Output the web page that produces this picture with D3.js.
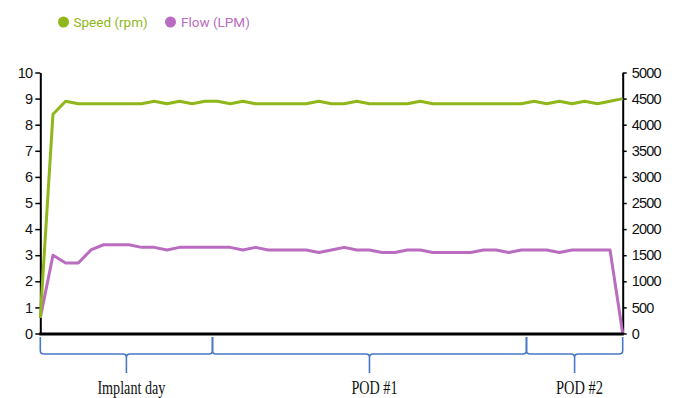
<!DOCTYPE html>
<html>
<head>
<meta charset="utf-8">
<script src="https://cdn.jsdelivr.net/npm/d3@7"></script>
<style>
  html, body { margin: 0; padding: 0; background: #fff; }
  svg { display: block; }
</style>
</head>
<body>
<svg id="chart" width="674" height="398"></svg>
<script>
// ---- data ----
const seriesNames = ["Speed (rpm)", "Flow (LPM)"];
// speed in rpm (right axis, 0-5000), one value per measurement index
const speedRpm = [300, 4200, 4450, 4400, 4400, 4400, 4400, 4400, 4400, 4450,
  4400, 4450, 4400, 4450, 4450, 4400, 4450, 4400, 4400, 4400,
  4400, 4400, 4450, 4400, 4400, 4450, 4400, 4400, 4400, 4400,
  4450, 4400, 4400, 4400, 4400, 4400, 4400, 4400, 4400, 4450,
  4400, 4450, 4400, 4450, 4400, 4450, 4500];
// flow in LPM (left axis, 0-10)
const flowLpm = [0.6, 3.0, 2.7, 2.7, 3.2, 3.4, 3.4, 3.4, 3.3, 3.3,
  3.2, 3.3, 3.3, 3.3, 3.3, 3.3, 3.2, 3.3, 3.2, 3.2,
  3.2, 3.2, 3.1, 3.2, 3.3, 3.2, 3.2, 3.1, 3.1, 3.2,
  3.2, 3.1, 3.1, 3.1, 3.1, 3.2, 3.2, 3.1, 3.2, 3.2,
  3.2, 3.1, 3.2, 3.2, 3.2, 3.2, 0];
const leftTicks = [0, 1, 2, 3, 4, 5, 6, 7, 8, 9, 10];
const rightTicks = [0, 500, 1000, 1500, 2000, 2500, 3000, 3500, 4000, 4500, 5000];
// period groups along the measurement index
const periodLabels = ["Implant day", "POD #1", "POD #2"];
const periodBounds = [0, 13.6, 38.4, 46];

// ---- layout ----
const colors = { speed: "#8fb71a", flow: "#b96cc0", brace: "#4a78c8" };
const svg = d3.select("#chart");
const x = d3.scaleLinear().domain([0, speedRpm.length - 1]).range([40.3, 622.7]);
const yLeft = d3.scaleLinear().domain([0, 10]).range([333.5, 72.5]);
const yRight = d3.scaleLinear().domain([0, 5000]).range([333.5, 72.5]);

// legend
const legend = svg.append("g");
const legendItems = [
  { name: seriesNames[0], color: colors.speed, cx: 63.5, tx: 73.5 },
  { name: seriesNames[1], color: colors.flow, cx: 170.5, tx: 181 }
];
legendItems.forEach(d => {
  legend.append("circle").attr("cx", d.cx).attr("cy", 22).attr("r", 5.5).attr("fill", d.color);
  legend.append("text").attr("x", d.tx).attr("y", 27)
    .attr("font-family", "Roboto, 'Noto Sans', sans-serif").attr("font-size", 13.5)
    .attr("fill", d.color).text(d.name);
});

// axes
const tickFont = "'Liberation Sans', Arial, sans-serif";
const gl = svg.append("g").attr("transform", `translate(${x(0)},0)`)
  .call(d3.axisLeft(yLeft).tickValues(leftTicks).tickFormat(d3.format("d"))
    .tickSize(5).tickSizeOuter(0).tickPadding(3));
const gr = svg.append("g").attr("transform", `translate(${x(speedRpm.length - 1)},0)`)
  .call(d3.axisRight(yRight).tickValues(rightTicks).tickFormat(d3.format("d"))
    .tickSize(4).tickSizeOuter(0).tickPadding(5));
[gl, gr].forEach(g => {
  g.select(".domain").attr("stroke", "#000").attr("stroke-width", 2);
  g.selectAll(".tick line").attr("stroke", "#000").attr("stroke-width", 1.5);
  g.selectAll(".tick text").attr("font-family", tickFont).attr("font-size", 14.5)
    .attr("letter-spacing", -0.8).attr("fill", "#111");
});

// lines
const lineFlow = d3.line().x((d, i) => x(i)).y(d => yLeft(d));
const lineSpeed = d3.line().x((d, i) => x(i)).y(d => yRight(d));
svg.append("path").datum(flowLpm).attr("d", lineFlow)
  .attr("fill", "none").attr("stroke", colors.flow).attr("stroke-width", 3).attr("stroke-linejoin", "round");
svg.append("path").datum(speedRpm).attr("d", lineSpeed)
  .attr("fill", "none").attr("stroke", colors.speed).attr("stroke-width", 3).attr("stroke-linejoin", "round");

// x axis line
svg.append("line").attr("x1", x(0) - 1).attr("x2", x(speedRpm.length - 1) + 1)
  .attr("y1", 334).attr("y2", 334).attr("stroke", "#000").attr("stroke-width", 2.8);

// braces
const yTop = 337, yMid = 354, yTip = 373, r = 3.5;
function bracePath(x0, x1) {
  const xm = (x0 + x1) / 2;
  return `M${x0},${yTop} L${x0},${yMid - r} Q${x0},${yMid} ${x0 + r},${yMid} L${xm - r},${yMid} ` +
    `Q${xm},${yMid} ${xm},${yMid + r} L${xm},${yTip} M${xm},${yMid + r} Q${xm},${yMid} ${xm + r},${yMid} ` +
    `L${x1 - r},${yMid} Q${x1},${yMid} ${x1},${yMid - r} L${x1},${yTop}`;
}
const braces = periodLabels.map((name, i) => ({ name, a: periodBounds[i], b: periodBounds[i + 1] }));
svg.selectAll(".brace").data(braces).enter().append("path")
  .attr("d", d => bracePath(x(d.a), x(d.b)))
  .attr("fill", "none").attr("stroke", colors.brace).attr("stroke-width", 1.6);
const labelWidths = [68, 46, 47];
svg.selectAll(".plabel").data(braces).enter().append("text")
  .attr("x", d => x((d.a + d.b) / 2) + 5).attr("y", 394)
  .attr("text-anchor", "middle")
  .attr("font-family", "'Liberation Serif', 'Times New Roman', serif").attr("font-size", 18)
  .attr("textLength", (d, i) => labelWidths[i]).attr("lengthAdjust", "spacingAndGlyphs")
  .attr("fill", "#111").text(d => d.name);
</script>
</body>
</html>
